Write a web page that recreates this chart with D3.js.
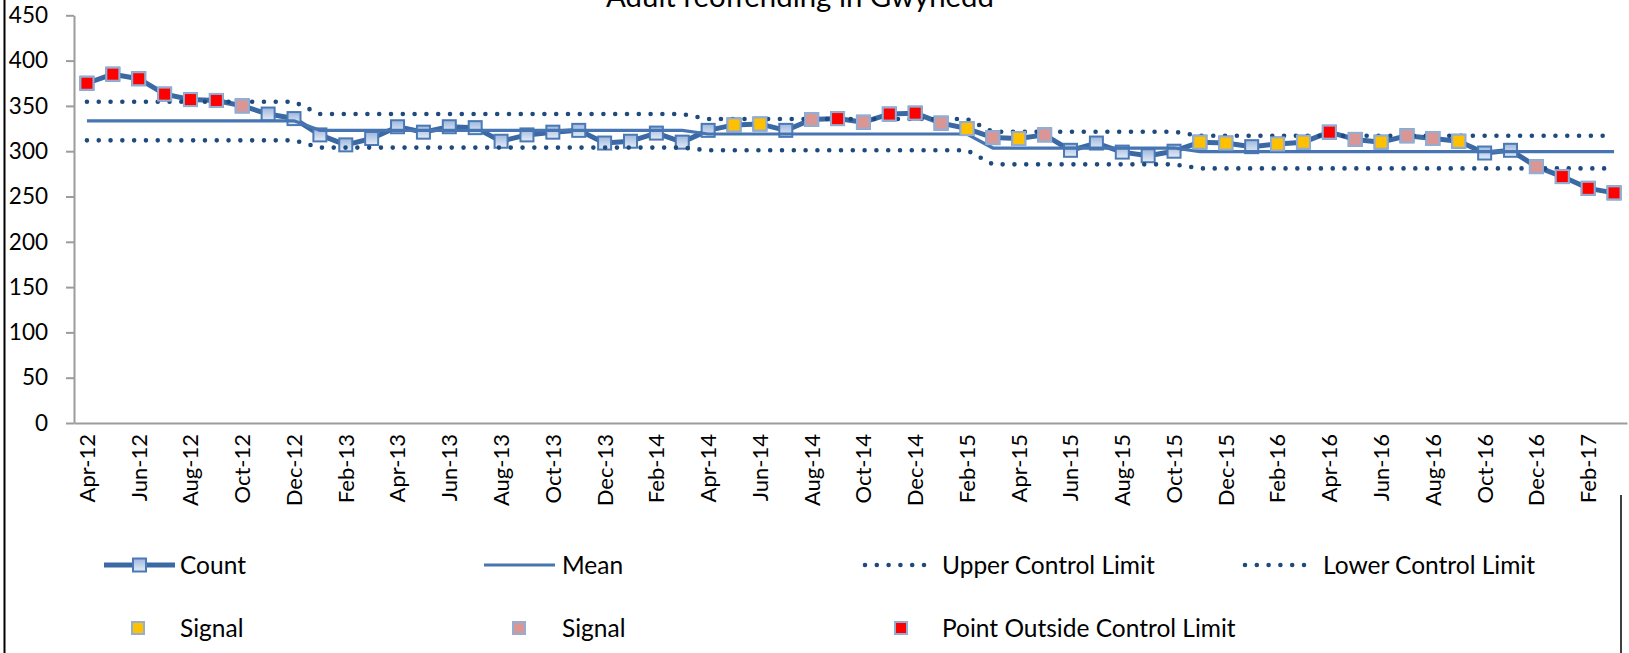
<!DOCTYPE html>
<html>
<head>
<meta charset="utf-8">
<script src="https://cdn.jsdelivr.net/npm/d3@7"></script>
<style>
  html, body { margin: 0; padding: 0; background: #fff; }
  svg { display: block; }
  text { font-family: Lato, "Open Sans", sans-serif; fill: #000; }
</style>
</head>
<body>
<svg id="chart" width="1629" height="653"></svg>
<script>
// Monthly counts of adult reoffending, Gwynedd
const months = [
  "Apr-12","May-12","Jun-12","Jul-12","Aug-12","Sep-12","Oct-12","Nov-12","Dec-12","Jan-13","Feb-13","Mar-13",
  "Apr-13","May-13","Jun-13","Jul-13","Aug-13","Sep-13","Oct-13","Nov-13","Dec-13","Jan-14","Feb-14","Mar-14",
  "Apr-14","May-14","Jun-14","Jul-14","Aug-14","Sep-14","Oct-14","Nov-14","Dec-14","Jan-15","Feb-15","Mar-15",
  "Apr-15","May-15","Jun-15","Jul-15","Aug-15","Sep-15","Oct-15","Nov-15","Dec-15","Jan-16","Feb-16","Mar-16",
  "Apr-16","May-16","Jun-16","Jul-16","Aug-16","Sep-16","Oct-16","Nov-16","Dec-16","Jan-17","Feb-17","Mar-17"
];
const counts = [
  375,385,380,363,357,356,350,341,336,318,307,314,
  327,321,327,326,311,318,321,323,309,311,320,310,
  323,329,330,323,335,336,332,341,342,331,325,315,
  314,318,301,309,299,295,300,310,309,305,308,310,
  321,313,310,317,314,311,298,301,283,272,259,254
];

// Process phases: first month of each phase and its limits
const phaseStarts = ["Apr-12","Jan-13","Apr-14","Mar-15","Nov-15"];
const phaseMean   = [333.5, 323, 319, 303.5, 299.5];
const phaseUcl    = [354.5, 341, 335.5, 321.5, 317];
const phaseLcl    = [312, 304, 301, 285.5, 281];

// Months flagged by the run rules
const signalAmber = ["May-14","Jun-14","Feb-15","Apr-15","Nov-15","Dec-15","Feb-16","Mar-16","Jun-16","Sep-16"];
const signalPink  = ["Oct-12","Aug-14","Oct-14","Jan-15","Mar-15","May-15","May-16","Jul-16","Aug-16","Dec-16"];
const outsideLimit = ["Apr-12","May-12","Jun-12","Jul-12","Aug-12","Sep-12","Sep-14","Nov-14","Dec-14","Apr-16","Jan-17","Feb-17","Mar-17"];

const yTicks = [0,50,100,150,200,250,300,350,400,450];
const xTickLabels = months.filter((m, i) => i % 2 === 0);

const chartTitle = "Adult reoffending in Gwynedd";
const legendRow1 = ["Count","Mean","Upper Control Limit","Lower Control Limit"];
const legendRow2 = ["Signal","Signal","Point Outside Control Limit"];

// ---- layout ----
const svg = d3.select("#chart");
const plotLeft = 74, plotRight = 1627, plotTop = 15.3, plotBottom = 423;

const x = d3.scaleBand().domain(months).range([plotLeft, plotRight]).padding(0);
const cx = m => x(m) + x.bandwidth() / 2;
const y = d3.scaleLinear().domain([0, 450]).range([plotBottom, plotTop]);

const colors = {
  countLine: "#3B69A3",
  meanLine: "#4675B2",
  limit: "#1F4A7E",
  axis: "#9C9C9C",
  markerEdge: "#4A79B5",
  flagEdge: "#93ADD3",
  amber: "#FFC000",
  pink: "#D99694",
  red: "#FF0000"
};

const defs = svg.append("defs");
const grad = defs.append("linearGradient").attr("id", "mk").attr("x1", 0).attr("y1", 0).attr("x2", 0).attr("y2", 1);
grad.append("stop").attr("offset", "0%").attr("stop-color", "#9DB7DD");
grad.append("stop").attr("offset", "100%").attr("stop-color", "#E4ECF7");

// chart frame
svg.append("line").attr("x1", 4.5).attr("x2", 4.5).attr("y1", 0).attr("y2", 653)
  .attr("stroke", "#000").attr("stroke-width", 2);
svg.append("line").attr("x1", 1621).attr("x2", 1621).attr("y1", 495).attr("y2", 653)
  .attr("stroke", "#000").attr("stroke-width", 1.5);

// title (only its lower part sits inside the frame)
const title = svg.append("text").attr("x", 800).attr("y", 7).attr("text-anchor", "middle")
  .style("font-size", "28px").text(chartTitle);
{
  const w = title.node().getComputedTextLength();
  title.style("font-size", (28 * 388 / w).toFixed(2) + "px");
}

// y axis
const yAxis = svg.append("g").attr("transform", `translate(${plotLeft},0)`)
  .call(d3.axisLeft(y).tickValues(yTicks).tickSize(8).tickSizeOuter(0).tickPadding(18));
yAxis.select(".domain").attr("stroke", colors.axis).attr("stroke-width", 2);
yAxis.selectAll(".tick line").attr("stroke", colors.axis).attr("stroke-width", 2);
yAxis.selectAll(".tick text").style("font-size", "22.5px").attr("fill", "#000");

// x axis
const xAxis = svg.append("g").attr("transform", `translate(0,${plotBottom})`)
  .call(d3.axisBottom(x).tickValues(xTickLabels).tickSize(0).tickSizeOuter(0));
xAxis.select(".domain").attr("stroke", colors.axis).attr("stroke-width", 2);
xAxis.selectAll(".tick text")
  .attr("transform", "rotate(-90)")
  .attr("x", -11).attr("y", 0).attr("dy", "0.36em")
  .style("text-anchor", "end").style("font-size", "22px").attr("fill", "#000");

// expand the phase limits to one value per month
const phaseIndex = months.map(m => {
  let p = 0;
  phaseStarts.forEach((s, k) => { if (months.indexOf(m) >= months.indexOf(s)) p = k; });
  return p;
});
const meanSeries = months.map((m, i) => ({ m, v: phaseMean[phaseIndex[i]] }));
const uclSeries  = months.map((m, i) => ({ m, v: phaseUcl[phaseIndex[i]] }));
const lclSeries  = months.map((m, i) => ({ m, v: phaseLcl[phaseIndex[i]] }));
const countSeries = months.map((m, i) => ({ m, v: counts[i] }));

const line = d3.line().x(d => cx(d.m)).y(d => y(d.v));

// count line with markers
svg.append("path").datum(countSeries).attr("d", line)
  .attr("fill", "none").attr("stroke", colors.countLine).attr("stroke-width", 5)
  .attr("stroke-linejoin", "round");
const mk = 13;
svg.append("g").selectAll("rect").data(countSeries).join("rect")
  .attr("x", d => cx(d.m) - mk / 2).attr("y", d => y(d.v) - mk / 2)
  .attr("width", mk).attr("height", mk)
  .attr("fill", "url(#mk)").attr("stroke", colors.markerEdge).attr("stroke-width", 2);

// mean and control limits
svg.append("path").datum(meanSeries).attr("d", line)
  .attr("fill", "none").attr("stroke", colors.meanLine).attr("stroke-width", 3.2);
[uclSeries, lclSeries].forEach(s => {
  svg.append("path").datum(s).attr("d", line)
    .attr("fill", "none").attr("stroke", colors.limit).attr("stroke-width", 4.6)
    .attr("stroke-linecap", "round").attr("stroke-dasharray", "0 11.8");
});

// flagged points
const valueOf = m => counts[months.indexOf(m)];
function flagMarkers(list, fill) {
  svg.append("g").selectAll("rect").data(list).join("rect")
    .attr("x", m => cx(m) - mk / 2).attr("y", m => y(valueOf(m)) - mk / 2)
    .attr("width", mk).attr("height", mk)
    .attr("fill", fill).attr("stroke", colors.flagEdge).attr("stroke-width", 2);
}
flagMarkers(signalAmber, colors.amber);
flagMarkers(signalPink, colors.pink);
flagMarkers(outsideLimit, colors.red);

// legend
const legend = svg.append("g");
const col = [104, 484, 863, 1243];
const textX = [180, 562, 942, 1323];
const r1 = 565, r2 = 628;
const fs = "24.5px";

legend.append("line").attr("x1", col[0]).attr("x2", col[0] + 71).attr("y1", r1).attr("y2", r1)
  .attr("stroke", colors.countLine).attr("stroke-width", 5);
legend.append("rect").attr("x", col[0] + 35.5 - mk / 2).attr("y", r1 - mk / 2).attr("width", mk).attr("height", mk)
  .attr("fill", "url(#mk)").attr("stroke", colors.markerEdge).attr("stroke-width", 2);
legend.append("line").attr("x1", col[1]).attr("x2", col[1] + 71).attr("y1", r1).attr("y2", r1)
  .attr("stroke", colors.meanLine).attr("stroke-width", 3.2);
[2, 3].forEach(k => {
  legend.append("line").attr("x1", col[k] + 2).attr("x2", col[k] + 71).attr("y1", r1).attr("y2", r1)
    .attr("stroke", colors.limit).attr("stroke-width", 4.6)
    .attr("stroke-linecap", "round").attr("stroke-dasharray", "0 11.8");
});
legendRow1.forEach((t, k) => {
  legend.append("text").attr("x", textX[k]).attr("y", r1).attr("dy", "0.35em")
    .style("font-size", fs).text(t);
});

const row2Marks = [[138, colors.amber], [519, colors.pink], [901, colors.red]];
row2Marks.forEach(([mx, fill]) => {
  legend.append("rect").attr("x", mx - 6).attr("y", r2 - 6).attr("width", 12).attr("height", 12)
    .attr("fill", fill).attr("stroke", colors.flagEdge).attr("stroke-width", 2);
});
legendRow2.forEach((t, k) => {
  legend.append("text").attr("x", textX[k]).attr("y", r2).attr("dy", "0.35em")
    .style("font-size", fs).text(t);
});
</script>
</body>
</html>
